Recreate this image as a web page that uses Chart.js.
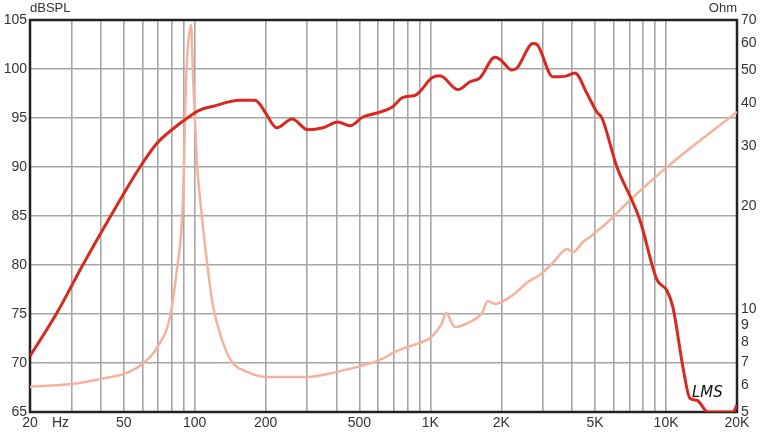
<!DOCTYPE html>
<html>
<head>
<meta charset="utf-8">
<script src="https://cdn.jsdelivr.net/npm/chart.js@4.4.1/dist/chart.umd.min.js"></script>
<style>
  html, body { margin: 0; padding: 0; background: #fff; }
  #wrap { width: 760px; height: 432px; position: relative; }
</style>
</head>
<body>
<div id="wrap"><canvas id="c" width="760" height="432"></canvas></div>
<script>
// ---- Data ----
const splFreq = [20, 26, 33.5, 44, 58.6, 69, 80, 93, 105, 120, 155, 180, 189, 200, 223, 259, 302, 350, 405, 456, 517, 611, 687, 765, 860, 903, 1015, 1098, 1309, 1472, 1624, 1878, 1973, 2218, 2330, 2724, 2832, 3310, 3796, 4106, 4616, 5088, 5345, 6188, 7166, 7746, 9146, 10084, 10692, 11790, 12628, 13520, 15048, 19214, 20000];
const splDb   = [70.7, 75.1, 80, 85, 90, 92.4, 93.8, 95.0, 95.8, 96.2, 96.8, 96.8, 96.4, 95.5, 94.0, 94.9, 93.8, 94.0, 94.6, 94.2, 95.1, 95.6, 96.1, 97.1, 97.3, 97.7, 99.1, 99.3, 97.9, 98.7, 99.1, 101.2, 101.0, 99.9, 100.1, 102.6, 102.5, 99.2, 99.3, 99.6, 97.5, 95.6, 95.0, 90.0, 86.6, 84.6, 78.5, 77.4, 75.7, 69.6, 66.4, 66.2, 65.0, 65.0, 65.7];

const impFreq = [20, 32.6, 40, 50, 60, 69, 78.5, 84, 88.3, 90.0, 90.9, 92.3, 96.5, 98.1, 100.2, 102.5, 107, 112, 119.6, 130, 144, 167, 202, 300, 400, 503, 611, 707, 803, 903, 996, 1120, 1164, 1271, 1472, 1655, 1755, 1878, 2240, 2594, 2916, 3310, 3796, 4024, 4438, 4752, 5778, 7026, 10084, 20000];
const impOhm  = [5.92, 6.08, 6.25, 6.46, 6.91, 7.69, 9.48, 13.0, 18.2, 26, 36, 50, 67.7, 50, 36, 26, 19, 14.2, 10.2, 8.2, 7.0, 6.55, 6.33, 6.33, 6.55, 6.81, 7.10, 7.49, 7.75, 7.96, 8.23, 9.10, 9.74, 8.86, 9.17, 9.74, 10.56, 10.35, 10.99, 12.0, 12.6, 13.64, 14.98, 14.68, 15.7, 16.25, 18.2, 20.8, 26.0, 37.7];

const xGridTicks = [20, 30, 40, 50, 60, 70, 80, 90, 100, 200, 300, 400, 500, 600, 700, 800, 900, 1000, 2000, 3000, 4000, 5000, 6000, 7000, 8000, 9000, 10000, 20000];
const xLabelValues = [20, 50, 100, 200, 500, 1000, 2000, 5000, 10000, 20000];
const xLabelTexts  = ['20', '50', '100', '200', '500', '1K', '2K', '5K', '10K', '20K'];
const ohmTicks = [5, 6, 7, 8, 9, 10, 20, 30, 40, 50, 60, 70];

const FONT = "'Liberation Sans', Arial, sans-serif";
const TEXT = '#333333';

const frame = {
  id: 'frame',
  beforeDatasetsDraw(chart) {
    const a = chart.chartArea, ctx = chart.ctx;
    ctx.save();
    ctx.strokeStyle = '#222';
    ctx.lineWidth = 2.5;
    ctx.strokeRect(a.left, a.top, a.right - a.left, a.bottom - a.top);
    ctx.restore();
  },
  afterDraw(chart) {
    const a = chart.chartArea, ctx = chart.ctx;
    ctx.save();
    ctx.fillStyle = TEXT;
    ctx.font = '13px ' + FONT;
    ctx.textBaseline = 'alphabetic';
    ctx.textAlign = 'left';
    ctx.fillText('dBSPL', a.left, 12);
    ctx.textAlign = 'right';
    ctx.fillText('Ohm', a.right, 12);
    ctx.font = '14px ' + FONT;
    ctx.textAlign = 'left';
    ctx.textBaseline = 'middle';
    ctx.fillText('Hz', 52, 423);
    ctx.fillStyle = '#111';
    ctx.font = 'italic 15px "DejaVu Sans", sans-serif';
    ctx.fillText('LMS', 692, 393);
    ctx.restore();
  }
};

new Chart(document.getElementById('c'), {
  type: 'line',
  data: {
    datasets: [
      {
        label: 'SPL',
        data: splFreq.map((f, i) => ({ x: f, y: splDb[i] })),
        yAxisID: 'y',
        borderColor: '#d8281f',
        borderWidth: 3,
        pointRadius: 0,
        cubicInterpolationMode: 'monotone',
        fill: false
      },
      {
        label: 'Impedance',
        data: impFreq.map((f, i) => ({ x: f, y: impOhm[i] })),
        yAxisID: 'y2',
        borderColor: '#f4b29c',
        borderWidth: 2.5,
        pointRadius: 0,
        cubicInterpolationMode: 'monotone',
        fill: false
      }
    ]
  },
  options: {
    responsive: false,
    animation: false,
    devicePixelRatio: 1,
    layout: { padding: { top: 20, left: 0, right: 0, bottom: 0 } },
    plugins: { legend: { display: false }, tooltip: { enabled: false } },
    scales: {
      x: {
        type: 'logarithmic',
        min: 20, max: 20000,
        afterBuildTicks(s) { s.ticks = xGridTicks.map(v => ({ value: v })); },
        afterFit(s) { s.height = 20; },
        grid: {
          drawTicks: false,
          color: ctx => (ctx.tick && (ctx.tick.value === 20 || ctx.tick.value === 20000)) ? 'rgba(0,0,0,0)' : '#a6a6a6',
          lineWidth: 1.6
        },
        border: { display: false },
        ticks: {
          autoSkip: false, maxRotation: 0, padding: 3,
          color: TEXT, font: { family: FONT, size: 14 },
          callback(v) { const i = xLabelValues.indexOf(v); return i >= 0 ? xLabelTexts[i] : ''; }
        }
      },
      y: {
        type: 'linear', position: 'left',
        min: 65, max: 105,
        afterFit(s) { s.width = 30; },
        grid: { drawTicks: false, color: '#a6a6a6', lineWidth: 1.6 },
        border: { display: false },
        ticks: { stepSize: 5, padding: 3, color: TEXT, font: { family: FONT, size: 14 } }
      },
      y2: {
        type: 'logarithmic', position: 'right',
        min: 5, max: 70,
        afterBuildTicks(s) { s.ticks = ohmTicks.map(v => ({ value: v })); },
        afterFit(s) { s.width = 23; },
        grid: { display: false, drawTicks: false },
        border: { display: false },
        ticks: { autoSkip: false, padding: 4, color: TEXT, font: { family: FONT, size: 14 }, callback: v => String(v) }
      }
    }
  },
  plugins: [frame]
});
</script>
</body>
</html>
